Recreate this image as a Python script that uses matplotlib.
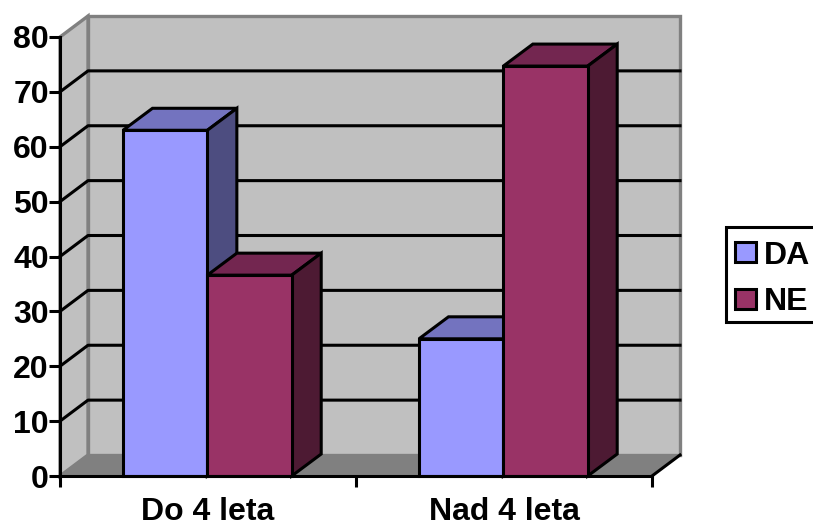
import matplotlib
matplotlib.use("Agg")
import matplotlib.pyplot as plt
from matplotlib.patches import Polygon, Rectangle

categories = ["Do 4 leta", "Nad 4 leta"]
series_names = ["DA", "NE"]
da_values = [63, 25]
ne_values = [36.6, 74.7]
y_ticks = [0, 10, 20, 30, 40, 50, 60, 70, 80]

W, H = 813, 523
plt.rcParams['font.family'] = ['Liberation Sans', 'DejaVu Sans']
plt.rcParams['font.weight'] = 'bold'

fig = plt.figure(figsize=(W / 100, H / 100), dpi=100)
ax = fig.add_axes([60 / W, (H - 476) / H, 592 / W, 439 / H])
ax.set_xlim(0, 2)
ax.set_ylim(0, 80)
ax.patch.set_visible(False)

# depth of the fake 3d box, in data units
dx = 28 / 296
dy = 21 / (439 / 80)
# bars stick out a touch further than the walls
bar_dx = 29.5 / 296
bar_dy = 22 / (439 / 80)
bar_w = 0.285
group_start = 0.2128
line_w = 2.2


def poly(pts, fc, ec, lw, z):
    ax.add_patch(Polygon(pts, closed=True, facecolor=fc, edgecolor=ec, linewidth=lw,
                         zorder=z, clip_on=False, joinstyle='miter'))


# walls and floor
poly([(dx, dy), (2 + dx, dy), (2 + dx, 80 + dy), (dx, 80 + dy)], "#C0C0C0", "#808080", 2.4, 1)
poly([(0, 0), (dx, dy), (dx, 80 + dy), (0, 80)], "#C0C0C0", "#808080", 2.4, 1)
poly([(0, 0), (2, 0), (2 + dx, dy), (dx, dy)], "#808080", "#808080", 1, 1)
ax.plot([2, 2 + dx], [0, dy], color="black", lw=line_w, zorder=2, clip_on=False)

# gridlines on side and back wall
for v in y_ticks[1:-1]:
    ax.plot([0, dx, 2 + dx], [v, v + dy, v + dy], color="black", lw=line_w, zorder=2, clip_on=False)


def bar3d(x, v, front, top, side):
    poly([(x, v), (x + bar_w, v), (x + bar_w + bar_dx, v + bar_dy), (x + bar_dx, v + bar_dy)], top, "black", line_w, 3)
    poly([(x + bar_w, 0), (x + bar_w + bar_dx, bar_dy), (x + bar_w + bar_dx, v + bar_dy), (x + bar_w, v)], side, "black", line_w, 3)
    poly([(x, 0), (x + bar_w, 0), (x + bar_w, v), (x, v)], front, "black", line_w, 4)


for i in range(len(categories)):
    bar3d(i + group_start, da_values[i], "#9999FF", "#7373BF", "#4D4D80")
    bar3d(i + group_start + bar_w, ne_values[i], "#993366", "#732650", "#4D1A33")

# axes
for s in ["top", "right"]:
    ax.spines[s].set_visible(False)
for s in ["left", "bottom"]:
    ax.spines[s].set_linewidth(line_w)
    ax.spines[s].set_zorder(5)
ax.set_yticks(y_ticks)
ax.set_xticks([0, 1, 2])
ax.set_xticklabels([])
ax.set_xticks([0.5, 1.5], categories, minor=True)
ax.tick_params(axis='y', labelsize=23, length=8, width=line_w, pad=0)
ax.tick_params(axis='x', which='major', length=8, width=line_w, direction='out')
ax.tick_params(axis='x', which='minor', labelsize=23, length=0, pad=15)

# legend
fig.add_artist(Rectangle((725.5 / W, (H - 322) / H), 100 / W, 95 / H, transform=fig.transFigure,
                         facecolor="white", edgecolor="black", linewidth=line_w))
for name, color, top in zip(series_names, ["#9999FF", "#993366"], [242, 289]):
    fig.add_artist(Rectangle((735 / W, (H - top - 20) / H), 21 / W, 20 / H, transform=fig.transFigure,
                             facecolor=color, edgecolor="black", linewidth=line_w))
    fig.text(764 / W, (H - top - 10) / H, name, fontsize=23, fontweight='bold', va='center_baseline', ha='left')

fig.savefig("out.png", dpi=100)
